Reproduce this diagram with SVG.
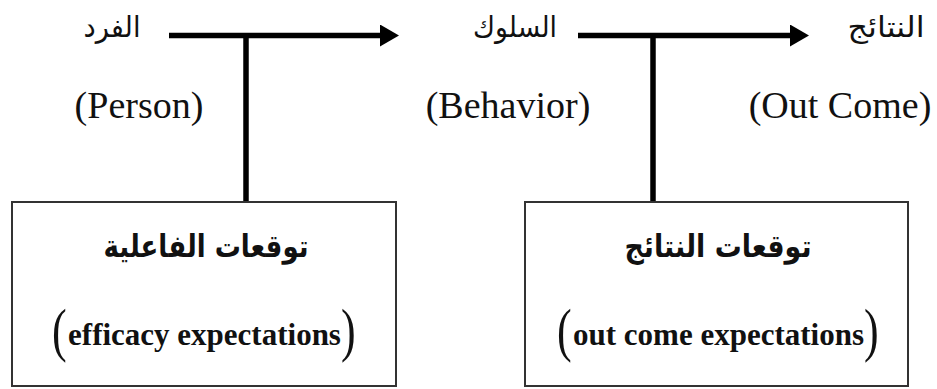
<svg xmlns="http://www.w3.org/2000/svg" width="937" height="389" viewBox="0 0 937 389">
<style>
.en{font-family:"Liberation Serif","Times New Roman",serif;fill:#111;}
.lbl{font-size:38px;}
.ar{font-family:"DejaVu Sans",sans-serif;fill:#111;}
.arl{font-size:29px;}
.arb{font-size:31px;font-weight:bold;}
.enb{font-size:31px;font-weight:bold;}
.box{fill:#fff;stroke:#333;stroke-width:2;}
.ln{stroke:#000;stroke-width:5.5;fill:none;}
</style>
<defs>
<marker id="ah" markerWidth="19" markerHeight="22" refX="1" refY="11" orient="auto" markerUnits="userSpaceOnUse">
<path d="M0,0 L19,11 L0,22 Z" fill="#000"/>
</marker>
</defs>
<rect width="937" height="389" fill="#fff"/>
<g id="connectors">
<line class="ln" x1="169" y1="35.5" x2="381" y2="35.5" marker-end="url(#ah)"/>
<line class="ln" x1="246" y1="35.5" x2="246" y2="201"/>
<line class="ln" x1="578" y1="35.5" x2="791" y2="35.5" marker-end="url(#ah)"/>
<line class="ln" x1="653" y1="35.5" x2="653" y2="201"/>
</g>
<g id="person">
<text class="ar arl" x="112" y="37" text-anchor="middle" direction="rtl" textLength="57" lengthAdjust="spacingAndGlyphs">الفرد</text>
<text class="en lbl" x="139" y="118" text-anchor="middle">(Person)</text>
</g>
<g id="behavior">
<text class="ar arl" x="515" y="37" text-anchor="middle" direction="rtl" textLength="84" lengthAdjust="spacingAndGlyphs">السلوك</text>
<text class="en lbl" x="508" y="118" text-anchor="middle">(Behavior)</text>
</g>
<g id="outcome">
<text class="ar arl" x="886" y="37" text-anchor="middle" direction="rtl" textLength="77" lengthAdjust="spacingAndGlyphs">النتائج</text>
<text class="en lbl" x="840" y="118" text-anchor="middle">(Out Come)</text>
</g>
<g id="efficacy">
<rect class="box" x="12" y="202" width="384" height="184"/>
<text class="ar arb" x="206" y="257" text-anchor="middle" direction="rtl" textLength="205" lengthAdjust="spacingAndGlyphs">توقعات الفاعلية</text>
<text class="en enb" x="204.5" y="345" text-anchor="middle">efficacy expectations</text>
<text class="en" font-size="44" transform="translate(52,350) scale(1,1.35)">(</text>
<text class="en" font-size="44" transform="translate(341,350) scale(1,1.35)">)</text>
</g>
<g id="outcome-expectations">
<rect class="box" x="525" y="202" width="383" height="184"/>
<text class="ar arb" x="718" y="257" text-anchor="middle" direction="rtl" textLength="187" lengthAdjust="spacingAndGlyphs">توقعات النتائج</text>
<text class="en enb" x="718.5" y="345" text-anchor="middle">out come expectations</text>
<text class="en" font-size="44" transform="translate(557,350) scale(1,1.35)">(</text>
<text class="en" font-size="44" transform="translate(864,350) scale(1,1.35)">)</text>
</g>
</svg>
